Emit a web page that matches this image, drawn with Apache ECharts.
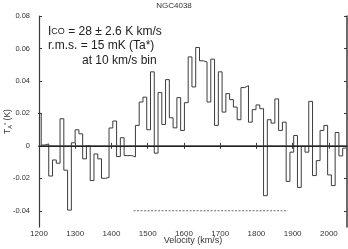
<!DOCTYPE html>
<html><head><meta charset="utf-8">
<script src="https://cdn.jsdelivr.net/npm/echarts@6/dist/echarts.min.js"></script>
<style>html,body{margin:0;padding:0;background:#fff}#c{width:348px;height:249px}</style>
</head><body><div id="c"></div>
<script>
// Spectrum channels (velocity grid of the spectrum, km/s)
const binStart = 1195.7;
const binWidth = 10.4;
// Antenna temperature T*A (K) per channel
const tempValues = [
  0.020, 0.0005, 0.0012,
  -0.0186, -0.0087, -0.0107, 0.0167, -0.015, -0.0396, 0.0019, 0.0099, 0.0074, -0.008,
  0.0, -0.0214, -0.005, -0.008, -0.020, -0.0195, 0.011, 0.0153, -0.0066, 0.005,
  -0.006, -0.006, -0.0068, 0.0126, 0.027, 0.030, 0.0099, 0.0456, -0.0045, 0.0328,
  0.0132, 0.0408, 0.0173, 0.0111, 0.0297, 0.0095, 0.0266,
  0.0548, 0.0363, 0.0606, 0.0524, 0.0517, 0.027, 0.0534, 0.0126, 0.0456, 0.0208,
  0.0322, 0.0285, 0.0239, 0.0161, 0.0359, 0.0371, 0.0146, 0.0223, 0.0252, 0.0229,
  -0.0307, 0.0161, 0.014, 0.0289, 0.0095, 0.0146, -0.0219, -0.0039, 0.0064, -0.0256,
  -0.0004, -0.0039, 0.0274, -0.0183, -0.0091, 0.0095, 0.0126, -0.0179, -0.0245, 0.0082,
  -0.0062, -0.0014
];
// Velocity range of the line (dashed bar)
const lineRangeVel = [1461, 1887];
const lineRangeLevel = -0.04;
// Tick labels
const xTicks = [1200, 1300, 1400, 1500, 1600, 1700, 1800, 1900, 2000];
const yTicks = [-0.04, -0.02, 0, 0.02, 0.04, 0.06, 0.08];
const titleText = 'NGC4038';
const xName = 'Velocity (km/s)';
const annot = ['= 28 \u00b1 2.6 K km/s', 'r.m.s. = 15 mK (Ta*)', 'at 10 km/s bin'];

const stepData = [];
tempValues.forEach((v, i) => {
  const x0 = binStart + i * binWidth;
  stepData.push([x0, v]);
  stepData.push([x0 + binWidth, v]);
});

const axisColor = '#3a3a3a';
const font = 'Liberation Sans';
const chart = echarts.init(document.getElementById('c'));
chart.setOption({
  animation: false,
  backgroundColor: '#fff',
  title: {
    text: titleText, left: 'center', top: 2, padding: 0,
    textStyle: {fontSize: 8, fontWeight: 'normal', color: '#333', fontFamily: font}
  },
  grid: {left: 39, right: 1, top: 16, bottom: 22, outerBoundsMode: 'none', containLabel: false},
  xAxis: [{
    type: 'value', min: 1200, max: 2050, position: 'bottom',
    name: xName, nameLocation: 'middle', nameGap: 9, nameMoveOverlap: false,
    nameTextStyle: {fontSize: 9, color: '#333', fontFamily: font, verticalAlign: 'top'},
    axisLine: {lineStyle: {color: axisColor, width: 1.5}},
    axisTick: {inside: true, length: 3, customValues: xTicks, lineStyle: {color: axisColor}},
    axisLabel: {customValues: xTicks, fontSize: 8, color: '#333', margin: 3, fontFamily: font,
      formatter: v => String(v)},
    splitLine: {show: false}
  }, {
    type: 'value', min: 1200, max: 2050, position: 'top',
    axisLine: {lineStyle: {color: axisColor, width: 1.2}},
    axisTick: {inside: true, length: 3, customValues: xTicks, lineStyle: {color: axisColor}},
    axisLabel: {show: false},
    splitLine: {show: false}
  }],
  yAxis: [{
    type: 'value', min: -0.05, max: 0.08, position: 'left',
    name: 'T{sub|A}{sup|*} (K)', nameLocation: 'middle', nameGap: 26, nameRotate: 90,
    nameMoveOverlap: false,
    nameTextStyle: {fontSize: 8.5, color: '#333', fontFamily: font,
      rich: {sub: {fontSize: 5.5, verticalAlign: 'bottom', padding: [4, 0, 0, 0], color: '#333'},
             sup: {fontSize: 6, verticalAlign: 'top', color: '#333'}}},
    axisLine: {show: true, lineStyle: {color: axisColor, width: 1.2}},
    axisTick: {show: true, inside: true, length: 3, customValues: yTicks, lineStyle: {color: axisColor}},
    axisLabel: {customValues: yTicks, fontSize: 7.5, color: '#333', margin: 9, fontFamily: font,
      formatter: v => (Math.abs(v) < 1e-9 ? '0' : v.toFixed(2))},
    splitLine: {show: false}
  }, {
    type: 'value', min: -0.05, max: 0.08, position: 'right',
    axisLine: {show: true, lineStyle: {color: axisColor, width: 1.5}},
    axisTick: {show: true, inside: true, length: 3, customValues: yTicks, lineStyle: {color: axisColor}},
    axisLabel: {show: false},
    splitLine: {show: false}
  }],
  series: [{
    type: 'line', data: stepData, symbol: 'none', clip: true,
    lineStyle: {color: '#3c3c3c', width: 1},
    markLine: {
      silent: true, symbol: 'none', label: {show: false},
      lineStyle: {color: '#222', width: 1, type: 'solid'},
      data: [{yAxis: 0}]
    }
  }, {
    type: 'line', symbol: 'none',
    data: [[lineRangeVel[0], lineRangeLevel], [lineRangeVel[1], lineRangeLevel]],
    lineStyle: {color: '#444', width: 0.8, type: [2, 1.5]}
  }],
  graphic: [
    {type: 'text', left: 48, top: 26, style: {
      text: 'I{sc|CO} ' + annot[0], fontSize: 12, fill: '#222', fontFamily: font,
      rich: {sc: {fontSize: 9, fill: '#222', fontFamily: font}}}},
    {type: 'text', left: 48, top: 40, style: {text: annot[1], fontSize: 12, fill: '#222', fontFamily: font}},
    {type: 'text', left: 82, top: 55, style: {text: annot[2], fontSize: 12, fill: '#222', fontFamily: font}}
  ]
});
</script></body></html>
